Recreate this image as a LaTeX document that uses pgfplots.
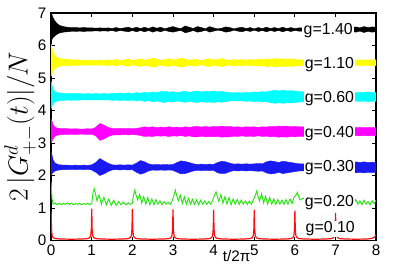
\documentclass[border=0pt]{standalone}
\usepackage[no-math]{fontspec}
\setmainfont{Liberation Sans}
\usepackage{pgfplots}
\pgfplotsset{compat=1.18}
\usepackage{pgfplotstable}
\usepgfplotslibrary{fillbetween}
\definecolor{cyel}{rgb}{1,1,0}
\definecolor{ccya}{rgb}{0,1,1}
\definecolor{cmag}{rgb}{1,0,1}
\definecolor{cblu}{rgb}{0.1,0.1,0.95}
\definecolor{cgrn}{rgb}{0.15,0.9,0.05}
\definecolor{cred}{rgb}{1,0.05,0.05}

\pgfplotstableread{
x kU kL yU yL cU cL mU mL bU bL
0 7.00 6.10 6.05 5.05 4.90 4.05 3.75 3.00 2.75 2.00
0.02 6.95 6.18 5.95 5.12 4.80 4.12 3.68 3.05 2.65 2.05
0.05 6.85 6.25 5.80 5.22 4.65 4.22 3.56 3.14 2.48 2.10
0.1 6.74 6.30 5.68 5.30 4.57 4.27 3.48 3.21 2.38 2.14
0.15 6.67 6.35 5.62 5.34 4.55 4.29 3.46 3.24 2.35 2.16
0.2 6.62 6.38 5.60 5.36 4.54 4.30 3.45 3.25 2.33 2.17
0.3 6.58 6.41 5.58 5.38 4.53 4.31 3.44 3.26 2.32 2.18
0.4 6.56 6.42 5.57 5.38 4.52 4.32 3.44 3.26 2.32 2.18
0.5 6.55 6.43 5.56 5.38 4.53 4.31 3.43 3.27 2.31 2.19
0.6 6.55 6.43 5.56 5.39 4.52 4.32 3.44 3.26 2.32 2.18
0.7 6.54 6.44 5.55 5.39 4.52 4.32 3.43 3.27 2.31 2.19
0.8 6.55 6.43 5.55 5.39 4.51 4.33 3.43 3.27 2.32 2.18
0.9 6.54 6.44 5.54 5.40 4.52 4.32 3.44 3.26 2.31 2.19
1.0 6.54 6.44 5.55 5.39 4.51 4.33 3.43 3.27 2.33 2.17
1.1 6.53 6.45 5.54 5.40 4.52 4.32 3.48 3.22 2.40 2.10
1.2 6.54 6.44 5.55 5.39 4.51 4.33 3.60 3.08 2.52 2.00
1.3 6.53 6.45 5.54 5.40 4.52 4.32 3.55 3.12 2.45 2.05
1.4 6.54 6.44 5.56 5.38 4.51 4.33 3.48 3.20 2.38 2.12
1.5 6.52 6.46 5.54 5.40 4.53 4.31 3.45 3.24 2.33 2.17
1.6 6.55 6.43 5.57 5.37 4.52 4.32 3.44 3.25 2.32 2.18
1.7 6.52 6.46 5.53 5.41 4.54 4.30 3.45 3.25 2.33 2.17
1.8 6.54 6.44 5.56 5.38 4.52 4.32 3.44 3.26 2.32 2.18
1.9 6.56 6.42 5.58 5.36 4.54 4.30 3.45 3.25 2.33 2.17
2.0 6.52 6.46 5.54 5.40 4.52 4.32 3.44 3.26 2.32 2.18
2.1 6.56 6.42 5.56 5.38 4.55 4.29 3.45 3.25 2.38 2.10
2.2 6.52 6.46 5.59 5.35 4.53 4.31 3.47 3.23 2.46 2.04
2.3 6.56 6.42 5.55 5.39 4.56 4.28 3.50 3.20 2.42 2.08
2.4 6.52 6.46 5.57 5.37 4.54 4.30 3.48 3.21 2.36 2.14
2.5 6.57 6.41 5.61 5.33 4.57 4.27 3.50 3.20 2.33 2.17
2.6 6.53 6.45 5.58 5.36 4.55 4.29 3.47 3.22 2.34 2.16
2.7 6.56 6.42 5.54 5.40 4.58 4.26 3.49 3.21 2.33 2.17
2.8 6.51 6.47 5.57 5.37 4.59 4.25 3.48 3.22 2.34 2.16
2.9 6.55 6.43 5.59 5.35 4.56 4.28 3.50 3.20 2.33 2.17
3.0 6.58 6.41 5.55 5.39 4.58 4.26 3.48 3.22 2.34 2.16
3.1 6.54 6.44 5.58 5.36 4.55 4.29 3.49 3.21 2.40 2.10
3.2 6.52 6.46 5.61 5.33 4.57 4.27 3.47 3.23 2.45 2.05
3.3 6.60 6.39 5.58 5.36 4.59 4.25 3.50 3.20 2.43 2.06
3.4 6.56 6.42 5.54 5.40 4.56 4.28 3.48 3.22 2.40 2.10
3.5 6.52 6.46 5.58 5.36 4.58 4.26 3.50 3.19 2.36 2.14
3.6 6.58 6.41 5.56 5.38 4.60 4.24 3.51 3.19 2.34 2.16
3.7 6.55 6.43 5.53 5.41 4.57 4.27 3.49 3.21 2.35 2.15
3.8 6.51 6.47 5.57 5.37 4.59 4.25 3.51 3.19 2.34 2.16
3.9 6.58 6.41 5.59 5.35 4.58 4.26 3.49 3.20 2.35 2.15
4.0 6.54 6.44 5.55 5.39 4.60 4.24 3.51 3.19 2.34 2.16
4.1 6.51 6.47 5.57 5.37 4.57 4.27 3.50 3.20 2.40 2.08
4.2 6.53 6.45 5.60 5.34 4.59 4.25 3.52 3.18 2.44 2.06
4.3 6.57 6.41 5.56 5.38 4.56 4.28 3.50 3.19 2.42 2.07
4.4 6.55 6.43 5.54 5.40 4.55 4.29 3.51 3.19 2.38 2.12
4.5 6.51 6.47 5.57 5.37 4.54 4.30 3.49 3.21 2.35 2.15
4.6 6.54 6.44 5.55 5.39 4.55 4.29 3.50 3.20 2.36 2.14
4.7 6.56 6.42 5.57 5.37 4.54 4.30 3.48 3.22 2.35 2.15
4.8 6.52 6.46 5.54 5.40 4.56 4.28 3.50 3.20 2.36 2.14
4.9 6.55 6.43 5.57 5.37 4.55 4.29 3.49 3.21 2.35 2.15
5.0 6.51 6.47 5.55 5.39 4.57 4.27 3.50 3.20 2.36 2.14
5.1 6.55 6.43 5.58 5.36 4.56 4.28 3.48 3.22 2.37 2.13
5.2 6.52 6.46 5.56 5.38 4.58 4.26 3.50 3.20 2.36 2.14
5.3 6.56 6.42 5.59 5.35 4.57 4.27 3.49 3.21 2.42 2.08
5.4 6.52 6.46 5.57 5.37 4.60 4.24 3.51 3.19 2.45 2.05
5.5 6.55 6.43 5.60 5.34 4.62 4.22 3.50 3.20 2.43 2.06
5.6 6.52 6.46 5.58 5.36 4.60 4.24 3.52 3.18 2.40 2.10
5.7 6.56 6.42 5.59 5.35 4.62 4.22 3.51 3.19 2.44 2.06
5.8 6.52 6.46 5.57 5.37 4.60 4.24 3.52 3.18 2.42 2.08
5.9 6.55 6.43 5.59 5.35 4.61 4.23 3.50 3.20 2.40 2.10
6.0 6.52 6.46 5.57 5.37 4.60 4.24 3.51 3.19 2.38 2.12
6.1 6.54 6.44 5.56 5.38 4.58 4.26 3.50 3.20 2.36 2.14
6.5 6.54 6.44 5.56 5.38 4.56 4.28 3.48 3.22 2.36 2.14
7.0 6.54 6.44 5.56 5.38 4.56 4.28 3.48 3.22 2.36 2.14
7.4 6.55 6.43 5.56 5.38 4.56 4.28 3.48 3.22 2.38 2.12
7.5 6.57 6.41 5.55 5.39 4.55 4.29 3.47 3.23 2.42 2.08
7.6 6.54 6.44 5.56 5.38 4.56 4.28 3.48 3.22 2.40 2.10
7.7 6.58 6.40 5.55 5.39 4.55 4.29 3.47 3.23 2.42 2.08
7.8 6.55 6.43 5.56 5.38 4.57 4.27 3.48 3.22 2.40 2.10
7.9 6.57 6.41 5.55 5.39 4.55 4.29 3.47 3.23 2.41 2.09
8.0 6.56 6.42 5.56 5.38 4.56 4.28 3.48 3.22 2.40 2.10
}\bands

\begin{document}
\begin{tikzpicture}
\begin{axis}[
  scale only axis, width=245.25pt, height=171.75pt,
  xmin=0, xmax=8, ymin=0, ymax=7,
  xtick={0,1,2,3,4,5,6,7,8}, ytick={0,1,2,3,4,5,6,7},
  tick pos=both, tick align=inside, major tick length=3pt,
  axis line style={line width=1.1pt},
  every tick/.style={line width=0.6pt, black},
  tick label style={font=\fontsize{11.5}{13}\selectfont},
  /pgf/number format/assume math mode=true,
  xlabel={t/2π},
  xlabel style={at={(rel axis cs:0.571,0)}, anchor=center, yshift=-11.5pt, font=\fontsize{11.5}{13}\selectfont},
  ylabel={$2\,\Big|G^{d}_{+-}(t)\Big|/N$},
  ylabel style={at={(rel axis cs:-0.095,0.5)}, anchor=center, font=\fontsize{20}{24}\selectfont},
]
\addplot[name path=kU, black, line width=0.3pt] table[x=x,y=kU]{\bands};
\addplot[name path=kL, black, line width=0.3pt] table[x=x,y=kL]{\bands};
\addplot[black] fill between[of=kU and kL];
\addplot[name path=yU, cyel, line width=0.3pt] table[x=x,y=yU]{\bands};
\addplot[name path=yL, cyel, line width=0.3pt] table[x=x,y=yL]{\bands};
\addplot[cyel] fill between[of=yU and yL];
\addplot[name path=cU, ccya, line width=0.3pt] table[x=x,y=cU]{\bands};
\addplot[name path=cL, ccya, line width=0.3pt] table[x=x,y=cL]{\bands};
\addplot[ccya] fill between[of=cU and cL];
\addplot[name path=mU, cmag, line width=0.3pt] table[x=x,y=mU]{\bands};
\addplot[name path=mL, cmag, line width=0.3pt] table[x=x,y=mL]{\bands};
\addplot[cmag] fill between[of=mU and mL];
\addplot[name path=bU, cblu, line width=0.3pt] table[x=x,y=bU]{\bands};
\addplot[name path=bL, cblu, line width=0.3pt] table[x=x,y=bL]{\bands};
\addplot[cblu] fill between[of=bU and bL];

\addplot[cgrn, line width=0.7pt] coordinates {
(0,1.80) (0.02,1.30) (0.05,1.12) (0.1,1.16) (0.15,1.10) (0.2,1.15) (0.25,1.10) (0.3,1.15)
(0.35,1.11) (0.4,1.16) (0.45,1.11) (0.5,1.15) (0.55,1.10) (0.6,1.14) (0.65,1.11) (0.7,1.15)
(0.75,1.10) (0.8,1.14) (0.85,1.11) (0.9,1.15) (0.95,1.10) (1.0,1.14) (1.03,1.45) (1.06,1.60)
(1.09,1.45) (1.13,1.22) (1.18,1.40) (1.24,1.12) (1.3,1.33) (1.36,1.10) (1.42,1.28) (1.48,1.08)
(1.54,1.24) (1.6,1.08) (1.66,1.20) (1.72,1.10) (1.78,1.18) (1.84,1.10) (1.9,1.16) (1.95,1.11)
(2.0,1.15) (2.03,1.40) (2.06,1.55) (2.09,1.40) (2.13,1.25) (2.18,1.42) (2.23,1.15) (2.28,1.35)
(2.33,1.12) (2.38,1.32) (2.43,1.10) (2.48,1.28) (2.53,1.10) (2.58,1.26) (2.63,1.12) (2.68,1.22)
(2.73,1.10) (2.78,1.20) (2.83,1.12) (2.88,1.18) (2.93,1.11) (2.98,1.22) (3.03,1.42) (3.06,1.55)
(3.09,1.38) (3.13,1.22) (3.18,1.40) (3.23,1.14) (3.28,1.34) (3.33,1.12) (3.38,1.30) (3.43,1.12)
(3.48,1.27) (3.53,1.11) (3.58,1.25) (3.63,1.10) (3.68,1.24) (3.73,1.12) (3.78,1.22) (3.83,1.11)
(3.88,1.20) (3.93,1.12) (3.98,1.25) (4.03,1.42) (4.06,1.50) (4.09,1.36) (4.13,1.20) (4.18,1.42)
(4.23,1.15) (4.28,1.35) (4.33,1.12) (4.38,1.32) (4.43,1.10) (4.48,1.28) (4.53,1.12) (4.58,1.26)
(4.63,1.11) (4.68,1.24) (4.73,1.12) (4.78,1.22) (4.83,1.11) (4.88,1.21) (4.93,1.12) (4.98,1.26)
(5.03,1.40) (5.06,1.52) (5.09,1.38) (5.13,1.22) (5.18,1.44) (5.23,1.16) (5.28,1.36) (5.33,1.12)
(5.38,1.32) (5.43,1.12) (5.48,1.28) (5.53,1.11) (5.58,1.26) (5.63,1.12) (5.68,1.24) (5.73,1.11)
(5.78,1.26) (5.83,1.12) (5.88,1.28) (5.93,1.14) (5.98,1.34) (6.03,1.40) (6.06,1.48) (6.09,1.36)
(6.13,1.25) (6.2,1.30) (7.4,1.20) (7.45,1.12) (7.5,1.26) (7.55,1.12) (7.6,1.22) (7.65,1.10)
(7.7,1.24) (7.75,1.12) (7.8,1.20) (7.85,1.10) (7.9,1.22) (7.95,1.14) (8.0,1.25)
};

\addplot[cred, line width=0.9pt] coordinates {
(0,0.90) (0.01,0.35) (0.025,0.15) (0.05,0.09) (0.1,0.06) (0.2,0.05) (0.5,0.04) (0.8,0.05)
(0.9,0.06) (0.95,0.09) (0.975,0.15) (0.99,0.35) (1,0.98) (1.01,0.35) (1.025,0.15) (1.05,0.09) (1.1,0.06) (1.2,0.05) (1.5,0.04) (1.8,0.05)
(1.9,0.06) (1.95,0.09) (1.975,0.15) (1.99,0.35) (2,0.97) (2.01,0.35) (2.025,0.15) (2.05,0.09) (2.1,0.06) (2.2,0.05) (2.5,0.04) (2.8,0.05)
(2.9,0.06) (2.95,0.09) (2.975,0.15) (2.99,0.35) (3,0.96) (3.01,0.35) (3.025,0.15) (3.05,0.09) (3.1,0.06) (3.2,0.05) (3.5,0.04) (3.8,0.05)
(3.9,0.06) (3.95,0.09) (3.975,0.15) (3.99,0.35) (4,0.95) (4.01,0.35) (4.025,0.15) (4.05,0.09) (4.1,0.06) (4.2,0.05) (4.5,0.04) (4.8,0.05)
(4.9,0.06) (4.95,0.09) (4.975,0.15) (4.99,0.35) (5,0.94) (5.01,0.35) (5.025,0.15) (5.05,0.09) (5.1,0.06) (5.2,0.05) (5.5,0.04) (5.8,0.05)
(5.9,0.06) (5.95,0.09) (5.975,0.15) (5.99,0.35) (6,0.92) (6.01,0.35) (6.025,0.15) (6.05,0.09) (6.1,0.06) (6.2,0.05) (6.5,0.04) (6.8,0.05)
(6.9,0.06) (6.95,0.09) (6.975,0.15) (6.99,0.35) (7,0.85) (7.01,0.35) (7.025,0.15) (7.05,0.09) (7.1,0.06) (7.2,0.05) (7.5,0.04) (7.8,0.05)
(7.9,0.07) (7.95,0.10) (7.98,0.14) (8,0.18)
};

\tikzset{glab/.style={fill=white, inner xsep=1pt, inner ysep=0.6pt, font=\fontsize{12}{14}\selectfont}}
\node[glab] at (axis cs:6.82,6.45) {g=1.40};
\node[glab] at (axis cs:6.85,5.40) {g=1.10};
\node[glab] at (axis cs:6.85,4.36) {g=0.60};
\node[glab] at (axis cs:6.85,3.30) {g=0.40};
\node[glab] at (axis cs:6.85,2.25) {g=0.30};
\node[glab] at (axis cs:6.85,1.18) {g=0.20};
\node[glab] at (axis cs:6.87,0.37) {g=0.10};
\end{axis}
\path (current axis.south west) ++(-36.75pt,-21pt) coordinate (bbA);
\path (current axis.north east) ++(18pt,9.75pt) coordinate (bbB);
\path (bbA) rectangle (bbB);
\end{tikzpicture}
\end{document}
